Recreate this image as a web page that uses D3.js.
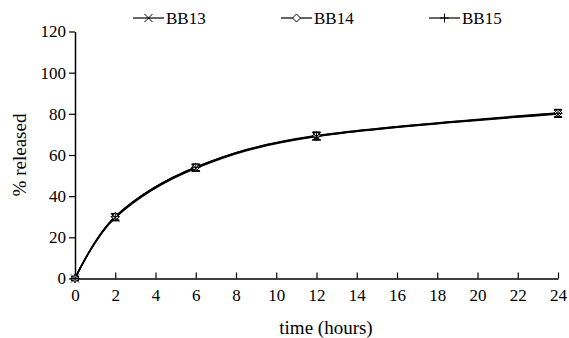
<!DOCTYPE html>
<html>
<head>
<meta charset="utf-8">
<script src="https://cdnjs.cloudflare.com/ajax/libs/d3/7.8.5/d3.min.js"></script>
<style>
body { margin: 0; background: #fff; }
text { font-family: "Liberation Serif", "Times New Roman", "DejaVu Serif", serif !important; fill: #000; }
</style>
</head>
<body>
<svg width="569" height="338"></svg>
<script>
// data
var times = [0, 2, 6, 12, 24];
var bb13 = [0, 29.6, 53.6, 69.0, 80.0];
var bb14 = [0, 30.0, 54.0, 69.4, 80.4];
var bb15 = [0, 30.0, 54.0, 69.2, 80.2];
var errs = [0.8, 1.6, 1.6, 1.8, 1.8];
var seriesNames = ["BB13", "BB14", "BB15"];
var xTicks = [0, 2, 4, 6, 8, 10, 12, 14, 16, 18, 20, 22, 24];
var yTicks = [0, 20, 40, 60, 80, 100, 120];

var svg = d3.select("svg");

var x = d3.scaleLinear().domain([0, 24]).range([75, 558]);
var y = d3.scaleLinear().domain([0, 120]).range([278.5, 31.5]);

// x axis
var xAxis = svg.append("g")
  .attr("transform", "translate(0," + y(0) + ")")
  .call(d3.axisBottom(x).tickValues(xTicks).tickSize(-6).tickSizeOuter(0).tickPadding(10));
xAxis.attr("font-family", null);
xAxis.select(".domain").attr("stroke", "#000").attr("stroke-width", 1.5);
xAxis.selectAll(".tick line").attr("stroke", "#000").attr("stroke-width", 1.2);
xAxis.selectAll(".tick text").attr("font-size", "17px");

// y axis
var yAxis = svg.append("g")
  .attr("transform", "translate(" + x(0) + ",0)")
  .call(d3.axisLeft(y).tickValues(yTicks).tickSize(6).tickSizeOuter(0).tickPadding(3));
yAxis.attr("font-family", null);
yAxis.select(".domain").attr("stroke", "#000").attr("stroke-width", 1.5);
yAxis.selectAll(".tick line").attr("stroke", "#000").attr("stroke-width", 1.2);
yAxis.selectAll(".tick text").attr("font-size", "17px");

// axis titles
svg.append("text")
  .attr("x", 326).attr("y", 334)
  .attr("text-anchor", "middle")
  .attr("font-size", "19px")
  .text("time (hours)");

svg.append("text")
  .attr("transform", "translate(26,155) rotate(-90)")
  .attr("text-anchor", "middle")
  .attr("font-size", "19px")
  .text("% released");

// lines
var line = d3.line()
  .x(function(d, i) { return x(times[i]); })
  .y(function(d) { return y(d); })
  .curve(d3.curveCardinal.tension(0));

[bb13, bb14, bb15].forEach(function(s) {
  svg.append("path")
    .attr("d", line(s))
    .attr("fill", "none")
    .attr("stroke", "#000")
    .attr("stroke-width", 1.6);
});

// error bars
[bb13, bb14, bb15].forEach(function(s) {
  s.forEach(function(v, i) {
    var cx = x(times[i]);
    svg.append("line")
      .attr("x1", cx).attr("x2", cx)
      .attr("y1", y(v - errs[i])).attr("y2", y(v + errs[i]))
      .attr("stroke", "#000").attr("stroke-width", 1);
    [v - errs[i], v + errs[i]].forEach(function(e) {
      svg.append("line")
        .attr("x1", cx - 4).attr("x2", cx + 4)
        .attr("y1", y(e)).attr("y2", y(e))
        .attr("stroke", "#000").attr("stroke-width", 1);
    });
  });
});

// markers
function marker(g, kind, cx, cy) {
  if (kind == "BB13") {
    g.append("path")
      .attr("d", "M" + (cx - 4) + "," + (cy - 4) + "L" + (cx + 4) + "," + (cy + 4) +
                 "M" + (cx - 4) + "," + (cy + 4) + "L" + (cx + 4) + "," + (cy - 4))
      .attr("stroke", "#000").attr("stroke-width", 1).attr("fill", "none");
  } else if (kind == "BB14") {
    g.append("path")
      .attr("d", "M" + cx + "," + (cy - 4) + "L" + (cx + 4) + "," + cy +
                 "L" + cx + "," + (cy + 4) + "L" + (cx - 4) + "," + cy + "Z")
      .attr("stroke", "#000").attr("stroke-width", 1).attr("fill", "#fff");
  } else {
    g.append("path")
      .attr("d", "M" + (cx - 4.5) + "," + cy + "L" + (cx + 4.5) + "," + cy +
                 "M" + cx + "," + (cy - 4.5) + "L" + cx + "," + (cy + 4.5))
      .attr("stroke", "#000").attr("stroke-width", 1).attr("fill", "none");
  }
}

[bb14, bb13, bb15].forEach(function(s, k) {
  var name = ["BB14", "BB13", "BB15"][k];
  s.forEach(function(v, i) {
    marker(svg, name, x(times[i]), y(v));
  });
});

// legend
var legX = [133, 281, 429];
seriesNames.forEach(function(name, i) {
  var lg = svg.append("g");
  lg.append("line")
    .attr("x1", legX[i]).attr("x2", legX[i] + 31)
    .attr("y1", 18).attr("y2", 18)
    .attr("stroke", "#000").attr("stroke-width", 1.2);
  marker(lg, name, legX[i] + 15.5, 18);
  lg.append("text")
    .attr("x", legX[i] + 33).attr("y", 24)
    .attr("font-size", "17px")
    .text(name);
});
</script>
</body>
</html>
